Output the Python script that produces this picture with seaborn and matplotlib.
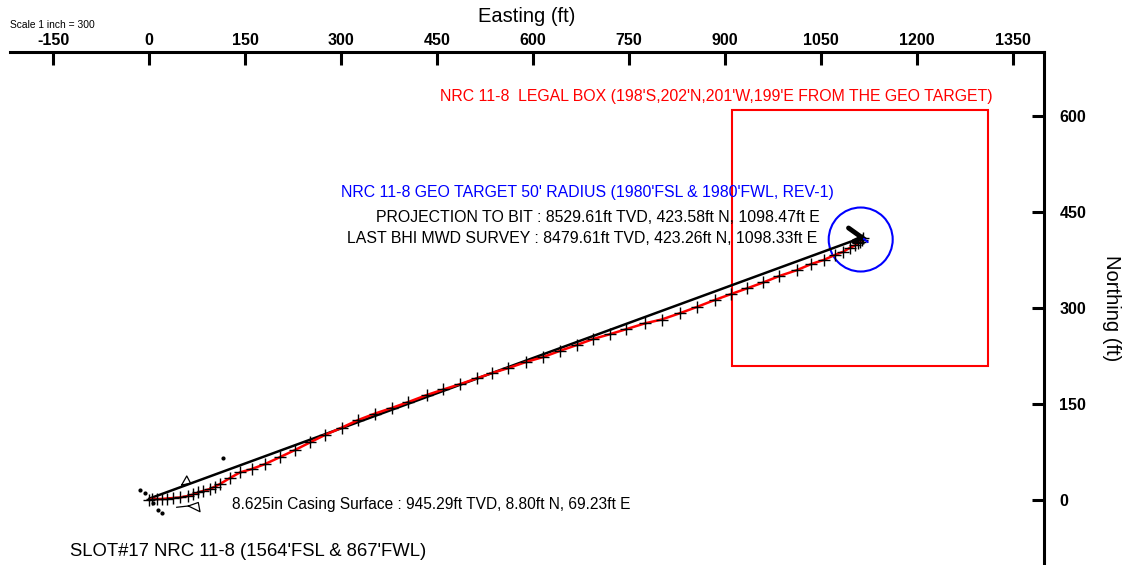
import numpy as np
import pandas as pd
import matplotlib
matplotlib.use("Agg")
import matplotlib.pyplot as plt
import seaborn as sns
from matplotlib.patches import Circle, Rectangle

# =====================================
# Datos (pies)
# =====================================

# estaciones de survey (Easting, Northing)
survey_e = [0, 4.2, 12, 19.8, 27.7, 38, 48.4, 61, 68.8, 76.6, 84.4, 95.3, 103, 111,
            126.6, 142, 160.5, 181, 204.7, 228, 251.6, 275, 301, 327, 353, 379, 405,
            434, 460, 486, 512, 536, 561, 589, 616, 642, 668, 694, 720, 746, 775, 801,
            830, 856, 884, 910, 934, 960, 985, 1012, 1035, 1054, 1072, 1085, 1095,
            1103, 1108, 1111, 1114, 1116]
survey_n = [0, 1.6, 1.6, 1.6, 2.3, 3.1, 3.9, 6.3, 8.6, 11.7, 14, 17.2, 21, 25,
            34.4, 43, 48.4, 56, 67, 78, 90, 101.6, 113, 125, 135, 143.7, 153,
            164, 172.7, 181, 190, 198.4, 206, 215.6, 223.4, 233, 242, 251.6, 259, 267,
            276, 282, 292, 301.6, 312.5, 322, 330.5, 340, 350, 359, 368.8, 375, 383,
            388, 394, 397.7, 400.8, 403, 406, 409]

# linea del plan
plan_e = [0, 1111]
plan_n = [2, 409]

# target y caja legal
target_e = 1112
target_n = 407
target_radius = 50
box_w, box_e = 201, 199
box_s, box_n = 198, 202

# puntos sueltos cerca del slot
dots_e = [-14, -6, 6, 14, 20, 115.6]
dots_n = [15.6, 11, -4.7, -15.6, -20, 65.6]

# simbolo del casing
casing_up_e = [51, 59, 65, 51]
casing_up_n = [23.4, 37.5, 26, 23.4]
casing_lo_e = [43, 61.4, 77, 79.7, 61.4]
casing_lo_n = [-11.4, -9.4, -3.9, -18.3, -9.4]

# flecha al bit
bit_e = [1093, 1114, 1101]
bit_n = [425, 410, 404]

x_ticks = [-150, 0, 150, 300, 450, 600, 750, 900, 1050, 1200, 1350]
y_ticks = [0, 150, 300, 450, 600]

survey = pd.DataFrame({"E": survey_e, "N": survey_n})
plan = pd.DataFrame({"E": plan_e, "N": plan_n})

# =====================================
# Figura
# =====================================

sns.set_style("white")
plt.rcParams["font.family"] = ["Liberation Sans", "DejaVu Sans"]
plt.rcParams["axes.unicode_minus"] = False
plt.rcParams["text.color"] = "black"
plt.rcParams["axes.labelcolor"] = "black"
plt.rcParams["xtick.color"] = "black"
plt.rcParams["ytick.color"] = "black"

fig = plt.figure(figsize=(11.4, 5.65), dpi=100)
ax = fig.add_axes([10 / 1140, 0, 1034 / 1140, 513 / 565])

sns.lineplot(data=plan, x="E", y="N", sort=False, color="black",
             linewidth=1.8, ax=ax)
sns.lineplot(data=survey, x="E", y="N", sort=False, color="red",
             linewidth=1.8, ax=ax)
sns.scatterplot(data=survey, x="E", y="N", marker="+", s=70, color="black",
                linewidth=1.0, ax=ax, zorder=4)

ax.scatter(dots_e, dots_n, s=4, color="black", zorder=4)
ax.plot(casing_up_e, casing_up_n, color="black", linewidth=0.9)
ax.plot(casing_lo_e, casing_lo_n, color="black", linewidth=0.9)
ax.plot(bit_e, bit_n, color="black", linewidth=3.5, solid_joinstyle="miter", zorder=5)
ax.plot([1117, 1123], [408, 403], color="blue", linewidth=1.5, zorder=5)

ax.add_patch(Circle((target_e, target_n), target_radius, fill=False,
                    edgecolor="blue", linewidth=1.5))
ax.add_patch(Rectangle((target_e - box_w, target_n - box_s), box_w + box_e,
                       box_s + box_n, fill=False, edgecolor="red", linewidth=1.5))

ax.set_xlim(-217.2, 1398.4)
ax.set_ylim(-101.6, 700)

ax.set_xticks(x_ticks)
ax.set_yticks(y_ticks)
ax.xaxis.tick_top()
ax.yaxis.tick_right()
ax.xaxis.set_label_position("top")
ax.yaxis.set_label_position("right")
ax.set_xlabel("Easting (ft)", fontsize=14.5, labelpad=8)
ax.set_ylabel("Northing (ft)", fontsize=14.5, rotation=-90, labelpad=25)

ax.tick_params(axis="x", direction="in", length=9, width=2.2, pad=3,
               labelsize=11.5)
ax.tick_params(axis="y", direction="in", length=9, width=2.2, pad=11,
               labelsize=11.5)
for lab in ax.get_xticklabels() + ax.get_yticklabels():
    lab.set_fontweight("bold")

for side in ["left", "bottom"]:
    ax.spines[side].set_visible(False)
for side in ["top", "right"]:
    ax.spines[side].set_linewidth(2.2)
    ax.spines[side].set_color("black")

# =====================================
# Textos
# =====================================

def px(x, y):
    return x / 1140, 1 - y / 565

fig.text(*px(10, 25), "Scale 1 inch = 300", fontsize=7.4, va="center")
fig.text(*px(440, 97), "NRC 11-8  LEGAL BOX (198'S,202'N,201'W,199'E FROM THE GEO TARGET)",
         color="red", fontsize=11.4, va="center")
fig.text(*px(341, 193), "NRC 11-8 GEO TARGET 50' RADIUS (1980'FSL & 1980'FWL, REV-1)",
         color="blue", fontsize=11.4, va="center")
fig.text(*px(820, 218), "PROJECTION TO BIT : 8529.61ft TVD, 423.58ft N, 1098.47ft E",
         fontsize=11.4, va="center", ha="right")
fig.text(*px(817, 238), "LAST BHI MWD SURVEY : 8479.61ft TVD, 423.26ft N, 1098.33ft E",
         fontsize=11.4, va="center", ha="right")
fig.text(*px(232, 505), "8.625in Casing Surface : 945.29ft TVD, 8.80ft N, 69.23ft E",
         fontsize=11.2, va="center")
fig.text(*px(70, 552), "SLOT#17 NRC 11-8 (1564'FSL & 867'FWL)",
         fontsize=13.3, va="center")

fig.savefig("out.png", dpi=100)
